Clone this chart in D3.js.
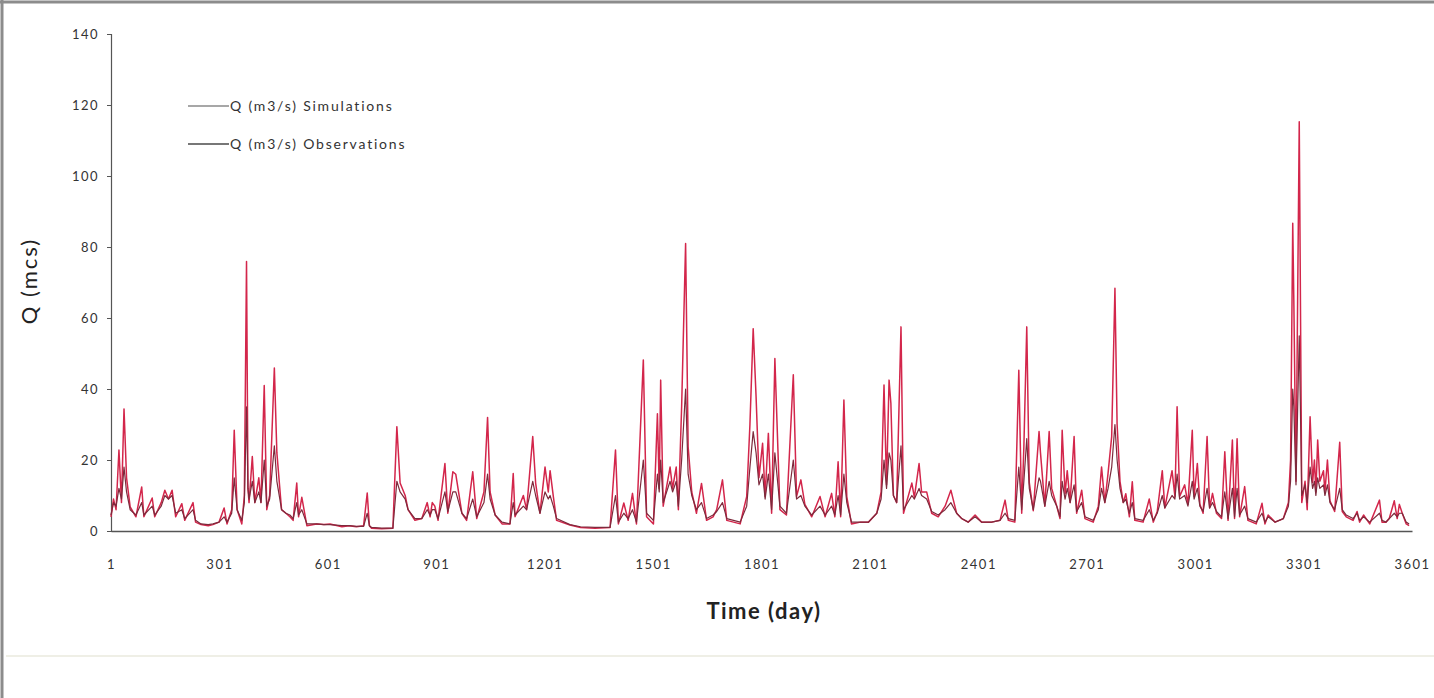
<!DOCTYPE html>
<meta charset="utf-8">
<html>
<body style="margin:0; background-color: white;">
<script src="https://d3js.org/d3.v7.min.js"></script>
<div id="my_dataviz"></div>
<script>

// days at which the hydrograph turns (peaks and troughs)
var dayPts = [1,8,15,23,30,37,44,54,70,86,92,115,122,140,150,160,170,180,197,205,228,235,250,270,283,300,314,322,335,342,350,363,370,376,380,383,392,399,410,416,425,432,440,453,460,473,485,496,505,515,520,529,543,570,590,607,640,660,680,700,710,716,722,750,781,792,801,815,823,842,861,876,884,890,897,906,925,933,947,955,972,985,1002,1013,1033,1043,1050,1064,1083,1105,1114,1119,1142,1151,1168,1176,1188,1202,1211,1216,1225,1234,1271,1300,1340,1382,1397,1405,1420,1432,1444,1455,1474,1483,1502,1513,1518,1522,1529,1548,1555,1565,1571,1580,1591,1598,1608,1621,1635,1649,1667,1677,1693,1705,1742,1760,1769,1778,1786,1794,1804,1811,1820,1829,1838,1852,1870,1889,1898,1910,1921,1940,1963,1977,1995,2004,2013,2020,2029,2037,2050,2075,2097,2120,2132,2140,2147,2154,2159,2166,2175,2187,2194,2217,2224,2237,2244,2258,2272,2290,2309,2325,2341,2355,2373,2392,2410,2438,2461,2475,2484,2502,2513,2521,2527,2535,2542,2553,2569,2573,2585,2597,2604,2618,2627,2633,2641,2647,2655,2666,2673,2687,2696,2719,2733,2742,2751,2760,2770,2779,2785,2793,2802,2809,2819,2827,2834,2857,2874,2885,2896,2910,2917,2937,2945,2951,2958,2972,2981,2993,2998,3007,3014,3023,3034,3041,3049,3060,3074,3083,3092,3104,3110,3117,3124,3138,3147,3170,3186,3194,3203,3222,3245,3259,3265,3271,3274,3280,3289,3296,3305,3311,3319,3326,3331,3335,3340,3346,3356,3360,3367,3374,3387,3401,3408,3419,3438,3449,3456,3467,3484,3511,3518,3529,3538,3552,3560,3566,3574,3585,3593];

// simulated discharge (m3/s)
var simQ = [4,9,6,22.8,8,34.4,15,6.8,4,12.4,4,9.3,4,8,11.5,9,11.5,4,7.7,3,8,2.5,1.8,1.5,1.8,2.5,6.5,2,6,28.4,6,2,10,75.9,12,8,21,8,15,8,41,6,10,45.9,22,6,5,4,3,13.5,4,9.5,1.5,2,1.8,2,1.2,1.5,1.2,1.5,10.7,1.5,0.8,0.6,0.8,29.4,13.5,10,6,3,3.5,8,4,8,7,3,19,5,16.7,16,5,3,16.7,3.5,11,32,11,4.5,2,2,16.2,4,10,6,26.6,13.5,5,18,11,17,9.7,3,1.7,1,0.8,1,22.8,2,7.9,3,10.6,2,48.2,4,2,33,12,42.5,7,18,12,18,6,35,81,23.7,11,5,13.4,3,4,6,14.4,3,2,9.7,30,57,37.8,15,24.7,9.7,27.5,5,48.6,6,4.5,44,9.7,14.4,7.5,4,9.7,4,10.6,4,19.5,4,36.9,9.7,2,2.5,2.5,5,11,41.1,13,42.5,36,10,8,57.5,5,13.5,9.5,19,11,11,5,4,7,11.5,5,3.5,2.5,4.5,2.5,2.5,3,8.7,3,2.5,45.3,5,23.7,57.5,13.6,5.7,28,22,7,28,12,7,3.5,28.4,10.5,17,8,26.6,5,11.5,3.5,2.5,7,18,8,16.3,26.6,68.4,30,14,8,10.5,4,13.9,3,2.5,9,2.5,5.5,17,6.5,17,9.7,35,9.7,13,7.5,28.4,9.7,19,7.5,5,26.6,6.5,10.6,5,3.5,22.3,3,25.6,3.5,26,4,12.5,3,2,7.8,2,4.5,2.5,3.5,8,20,86.7,65,14,115.3,8,14,6,32.2,13.7,20,11,25.6,14,17,11,20,8.5,5.5,25,5.5,4,3,5.5,2.5,4.5,2,8.7,2.5,2.5,3.5,8.5,3.5,7.5,5,2,1.5];

// observed discharge (m3/s)
var obsQ = [4.5,8,7,12,9,18,11,6,4.5,8,4.5,7,4.5,7,10,9,10,5,6,3.5,6,3,2,1.8,2,2.5,4,2.5,5,15,6,3,8,35,12,9,14,8,11,8,20,7,9,24,14,6,5,4.5,3.5,8,4.5,6,2,2,1.8,1.8,1.5,1.5,1.3,1.3,5,1.5,1,0.8,0.8,14,11,9,6,3.5,3.5,6,4.5,6,6,3.5,11,5.5,11,11,5,3.5,9,4,8,16,9,4.5,2.5,2,8,4.5,7,6,14,10,5,11,9,10,7,3.5,1.8,1.2,1,1,10,2.5,5,3.5,6,2.5,20,5,3,16,11,20,8,14,11,14,7,20,40,16,10,6,8,3.5,4.5,5.5,8,3.5,2.5,7,18,28,22,13,16,9,16,6,22,7,5,20,9,10,7,4.5,7,4.5,7,4.5,10,4.5,16,8,2.5,2.5,2.5,5,9,20,12,22,20,10,8,24,6,10,9,12,10,9,5.5,4.5,6,8,5,3.5,2.5,4,2.5,2.5,3,5,3.5,3,18,6,14,26,12,6,15,14,7,14,10,7,4,14,9,12,8,13,5.5,8,4,3,6,12,8,12,18,30,20,12,8,9,5,8,3.5,3,6,3,5,10,6.5,10,9,16,9,10,7,14,9,12,7,5.5,12,6.5,8,5.5,4,11,3.5,12,4,12,4.5,7,3.5,2.5,5,2.5,4,2.5,3.5,7,14,40,35,13,55,10,13,8,18,12,14,10,15,12,13,10,13,8,6,12,6,4.5,3.5,5,3,4,2.5,5,3,2.5,3.5,5,4,5,5,2.5,2];

var xTickVals = [1,301,601,901,1201,1501,1801,2101,2401,2701,3001,3301,3601];
var yTickVals = [0,20,40,60,80,100,120,140];
var seriesNames = ["Q (m3/s) Simulations", "Q (m3/s) Observations"];

var W = 1434, H = 698;
var margin = {top: 34, right: 22, bottom: 167, left: 111},
  width = W - margin.left - margin.right,
  height = H - margin.top - margin.bottom;

var fontFam = "Lato, 'Open Sans', sans-serif";

var root = d3.select("#my_dataviz")
  .append("svg")
    .attr("width", W)
    .attr("height", H)
    .style("display", "block");

// frame of the chart picture
root.append("rect").attr("width", W).attr("height", H).attr("fill", "white");
root.append("line").attr("x1", 0).attr("x2", W).attr("y1", 2).attr("y2", 2)
  .attr("stroke", "#8c8c8c").attr("stroke-width", 3);
root.append("line").attr("x1", 2).attr("x2", 2).attr("y1", 0).attr("y2", H)
  .attr("stroke", "#8c8c8c").attr("stroke-width", 3);
root.append("line").attr("x1", 6).attr("x2", W).attr("y1", 656).attr("y2", 656)
  .attr("stroke", "#efefe6").attr("stroke-width", 2);

var svg = root.append("g")
  .attr("transform", "translate(" + margin.left + "," + margin.top + ")");

var x = d3.scaleLinear().domain([1, 3601]).range([0, width]);
var y = d3.scaleLinear().domain([0, 140]).range([height, 0]);

// y axis
var yAxis = svg.append("g")
  .call(d3.axisLeft(y).tickValues(yTickVals).tickSize(4).tickPadding(8));
yAxis.select(".domain").attr("stroke", "#555").attr("stroke-width", 1.2);
yAxis.selectAll(".tick line").attr("stroke", "#555");
yAxis.selectAll("text")
  .attr("font-family", fontFam)
  .attr("font-size", "13px")
  .attr("letter-spacing", "1.5px")
  .attr("fill", "#333");

// x axis
var xAxis = svg.append("g")
  .attr("transform", "translate(0," + height + ")")
  .call(d3.axisBottom(x).tickValues(xTickVals).tickSize(0).tickPadding(29).tickFormat(d3.format("d")));
xAxis.select(".domain").attr("stroke", "#555").attr("stroke-width", 1.4);
xAxis.selectAll("text")
  .attr("font-family", fontFam)
  .attr("font-size", "13px")
  .attr("letter-spacing", "1.5px")
  .attr("fill", "#333");

// lines
var simPts = d3.zip(dayPts, simQ);
var obsPts = d3.zip(dayPts, obsQ);
var line = d3.line()
  .x(function(d) { return x(d[0]); })
  .y(function(d) { return y(d[1]); });

svg.append("path")
  .datum(simPts)
  .attr("fill", "none")
  .attr("stroke", "#d3264b")
  .attr("stroke-width", 1.5)
  .attr("stroke-linejoin", "round")
  .attr("d", line);

svg.append("path")
  .datum(obsPts)
  .attr("fill", "none")
  .attr("stroke", "#7d2a3c")
  .attr("stroke-width", 1.2)
  .attr("stroke-linejoin", "round")
  .attr("d", line);

// axis titles
root.append("text")
  .attr("transform", "translate(37,281) rotate(-90)")
  .attr("text-anchor", "middle")
  .attr("font-family", fontFam)
  .attr("font-size", "22px")
  .attr("letter-spacing", "2px")
  .attr("fill", "#222")
  .text("Q (mcs)");

root.append("text")
  .attr("x", 764)
  .attr("y", 619)
  .attr("text-anchor", "middle")
  .attr("font-family", fontFam)
  .attr("font-weight", "bold")
  .attr("font-size", "22px")
  .attr("letter-spacing", "1.5px")
  .attr("fill", "#222")
  .text("Time (day)");

// legend
var legColors = ["#8a8a8a", "#4a4a4a"];
var leg = root.selectAll(".leg")
  .data(seriesNames)
  .enter()
  .append("g")
    .attr("class", "leg")
    .attr("transform", function(d, i) { return "translate(188," + (106 + i * 38) + ")"; });
leg.append("line")
  .attr("x1", 0).attr("x2", 41)
  .attr("stroke", function(d, i) { return legColors[i]; })
  .attr("stroke-width", 1.3);
leg.append("text")
  .attr("x", 42)
  .attr("y", 5)
  .attr("font-family", fontFam)
  .attr("font-size", "14px")
  .attr("letter-spacing", "1.8px")
  .attr("fill", "#333")
  .text(function(d) { return d; });

</script>
</body>
</html>
